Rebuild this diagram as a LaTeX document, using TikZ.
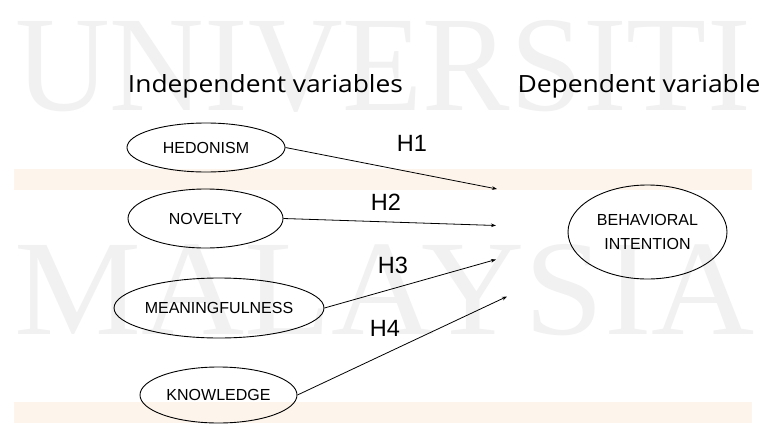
\documentclass[tikz,border=0pt]{standalone}
\usepackage{fontspec}
\setmainfont{Liberation Sans}
\newfontfamily\wmfont{Liberation Serif}
\newfontfamily\headfont{Open Sans}
\usetikzlibrary{shapes.geometric,arrows.meta}
\definecolor{wmgray}{HTML}{F1F1F1}
\definecolor{bandpeach}{HTML}{FDF4EB}
\tikzset{
  var/.style={ellipse,draw,line width=0.9pt,inner sep=0pt,font=\fontsize{16}{24}\selectfont,align=center},
  head/.style={font=\headfont\fontsize{23}{23}\selectfont,inner sep=0pt,anchor=base},
  hlab/.style={font=\fontsize{23.5}{23.5}\selectfont,inner sep=0pt},
  link/.style={line width=0.8pt,-{Stealth[length=5pt,width=3.6pt]}},
  wm/.style={inner sep=0pt,text=wmgray,font=\wmfont},
  band/.style={fill=bandpeach,draw=none}
}
\begin{document}
\begin{tikzpicture}[x=1pt,y=-1pt]
\clip (0,0) rectangle (765,423);
\fill[white] (0,0) rectangle (765,423);
% watermark
\node[wm,anchor=base west] (wm1) at (15,110) {\resizebox{735pt}{90pt}{UNIVERSITI}};
\node[wm,anchor=base west] (wm2) at (14,334) {\resizebox{740pt}{90pt}{MALAYSIA}};
% bands
\fill[band] (14,169) rectangle (752,190);
\fill[band] (14,402) rectangle (752,423);
% headings
\node[head] (ih) at (265.5,92) {\resizebox{275pt}{18pt}{Independent variables}};
\node[head] (dh) at (639,92) {\resizebox{243pt}{18pt}{Dependent variable}};
% variables
\node[var,minimum width=158pt,minimum height=49pt] (hed) at (206,147.5) {HEDONISM};
\node[var,minimum width=155pt,minimum height=59pt] (nov) at (205.5,218.5) {NOVELTY};
\node[var,minimum width=186pt,minimum height=60pt] (mea) at (219,308) {MEANINGFULNESS};
\node[var,minimum width=157pt,minimum height=56pt] (kno) at (218.5,395) {KNOWLEDGE};
\node[var,minimum width=159pt,minimum height=94pt] (beh) at (647.5,232) {BEHAVIORAL\\INTENTION};
% arrow ends
\coordinate (e1) at (497,189);
\coordinate (e2) at (496,225.5);
\coordinate (e3) at (496,259.5);
\coordinate (e4) at (507,296.5);
\draw[link] (hed.east) -- (e1);
\draw[link] (nov.east) -- (e2);
\draw[link] (mea.east) -- (e3);
\draw[link] (kno.east) -- (e4);
% labels
\node[hlab] (h1) at (412,143.5) {H1};
\node[hlab] (h2) at (386,202.5) {H2};
\node[hlab] (h3) at (393,265) {H3};
\node[hlab] (h4) at (385,328) {H4};
\end{tikzpicture}
\end{document}
